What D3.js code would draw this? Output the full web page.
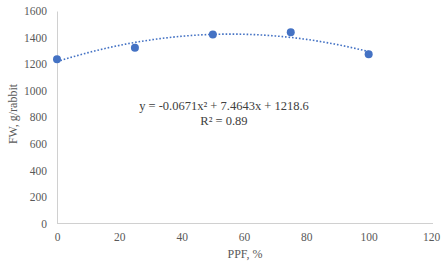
<!DOCTYPE html>
<html><head><meta charset="utf-8">
<script src="https://cdn.jsdelivr.net/npm/d3@7"></script>
<style>body{margin:0;background:#fff}svg{display:block}</style>
</head><body>
<svg id="c" width="448" height="270"></svg>
<script>
const ppf = [0, 25, 50, 75, 100];
const fw = [1236, 1324, 1424, 1440, 1274];
const xTicks = [0, 20, 40, 60, 80, 100, 120];
const yTicks = [0, 200, 400, 600, 800, 1000, 1200, 1400, 1600];
const trendCoef = [-0.0671, 7.4643, 1218.6]; // a, b, c from the chart's label
const eqText = "y = -0.0671x² + 7.4643x + 1218.6";
const r2Text = "R² = 0.89";

const svg = d3.select("#c");
const x = d3.scaleLinear().domain([0, 120]).range([57, 431]);
const y = d3.scaleLinear().domain([0, 1600]).range([223.5, 11]);
const font = "'Liberation Serif', 'Times New Roman', serif";
const axisCol = "#d0d0d0";
const txtCol = "#595959";

// axes
const xa = svg.append("g").attr("transform", `translate(0,${y(0)})`)
  .call(d3.axisBottom(x).tickValues(xTicks).tickFormat(d3.format("d")).tickSize(0).tickPadding(9));
xa.select(".domain").attr("stroke", axisCol).attr("d", `M${x(0)},0H${x(120)+2}`);
xa.selectAll("text").attr("fill", txtCol).style("font-family", font).style("font-size", "11.5px");

const ya = svg.append("g").attr("transform", `translate(${x(0)},0)`)
  .call(d3.axisLeft(y).tickValues(yTicks).tickFormat(d3.format("d")).tickSize(0).tickPadding(10));
ya.select(".domain").attr("stroke", axisCol);
ya.selectAll("text").attr("fill", txtCol).style("font-family", font).style("font-size", "11.5px");

// trendline
const samples = d3.range(0, 100.01, 1);
const f = t => trendCoef[0]*t*t + trendCoef[1]*t + trendCoef[2];
svg.append("path")
  .datum(samples)
  .attr("fill", "none")
  .attr("stroke", "#4472C4")
  .attr("stroke-width", 1.6)
  .attr("stroke-dasharray", "1.6,1.9")
  .attr("d", d3.line().x(d => x(d)).y(d => y(f(d))));

// points
svg.selectAll("circle.pt").data(ppf).join("circle")
  .attr("class", "pt")
  .attr("cx", d => x(d))
  .attr("cy", (d, i) => y(fw[i]))
  .attr("r", 4)
  .attr("fill", "#4472C4");

// equation
svg.append("text").attr("x", 224).attr("y", 110).attr("text-anchor", "middle")
  .attr("fill", "#404040").style("font-family", font).style("font-size", "12.5px").text(eqText);
svg.append("text").attr("x", 224).attr("y", 124.5).attr("text-anchor", "middle")
  .attr("fill", "#404040").style("font-family", font).style("font-size", "12.5px").text(r2Text);

// axis titles
svg.append("text").attr("x", 245).attr("y", 258).attr("text-anchor", "middle")
  .attr("fill", txtCol).style("font-family", font).style("font-size", "12px").text("PPF, %");
svg.append("text").attr("transform", "translate(17,114) rotate(-90)").attr("text-anchor", "middle")
  .attr("fill", txtCol).style("font-family", font).style("font-size", "12px").text("FW, g/rabbit");
</script>
</body></html>
